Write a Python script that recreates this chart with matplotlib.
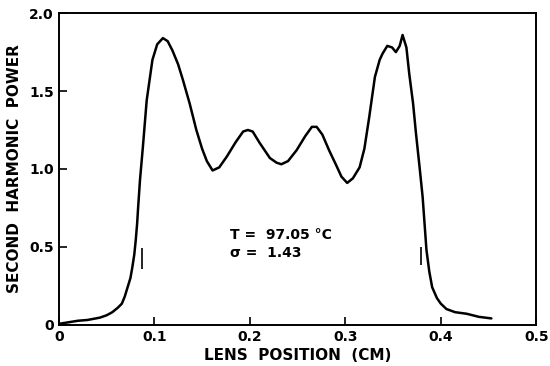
import matplotlib
matplotlib.use("Agg")
import matplotlib.pyplot as plt

# Curve data (lens position in cm, second harmonic power)
lens_pos = [0.0, 0.01, 0.02, 0.03, 0.043, 0.05, 0.056, 0.062, 0.066, 0.069, 0.072, 0.075,
            0.077, 0.079, 0.0805, 0.082, 0.083, 0.085, 0.088, 0.092, 0.095, 0.098, 0.103,
            0.109, 0.114, 0.119, 0.125, 0.130, 0.137, 0.144, 0.150, 0.155, 0.161, 0.168,
            0.176, 0.185, 0.193, 0.198, 0.203, 0.210, 0.221, 0.228, 0.233, 0.240, 0.249,
            0.258, 0.265, 0.270, 0.276, 0.283, 0.290, 0.296, 0.302, 0.308, 0.315, 0.320,
            0.325, 0.331, 0.336, 0.339, 0.344, 0.349, 0.353, 0.357, 0.360, 0.364, 0.367,
            0.371, 0.374, 0.378, 0.381, 0.383, 0.385, 0.388, 0.391, 0.396, 0.400, 0.406,
            0.415, 0.427, 0.440, 0.453]
power = [0.005, 0.015, 0.025, 0.03, 0.045, 0.06, 0.08, 0.11, 0.135, 0.18, 0.24, 0.30,
         0.37, 0.45, 0.54, 0.65, 0.75, 0.93, 1.14, 1.44, 1.57, 1.70, 1.80,
         1.84, 1.82, 1.76, 1.67, 1.57, 1.42, 1.25, 1.13, 1.05, 0.99, 1.01,
         1.08, 1.17, 1.24, 1.25, 1.24, 1.17, 1.07, 1.04, 1.03, 1.05, 1.12,
         1.21, 1.27, 1.27, 1.22, 1.12, 1.03, 0.95, 0.91, 0.94, 1.01, 1.13,
         1.33, 1.59, 1.70, 1.74, 1.79, 1.78, 1.75, 1.79, 1.86, 1.78, 1.61,
         1.42, 1.23, 1.0, 0.82, 0.65, 0.48, 0.34, 0.24, 0.17, 0.135, 0.10,
         0.08, 0.07, 0.05, 0.04]

# Short vertical marker lines
marker_x = [0.087, 0.379]
marker_y_low = [0.36, 0.38]
marker_y_high = [0.49, 0.50]

x_ticks = [0, 0.1, 0.2, 0.3, 0.4, 0.5]
x_ticklabels = ["0", "0.1", "0.2", "0.3", "0.4", "0.5"]
y_ticks = [0, 0.5, 1.0, 1.5, 2.0]
y_ticklabels = ["0", "0.5", "1.0", "1.5", "2.0"]

fig = plt.figure(figsize=(5.5, 3.66), dpi=100)
ax = fig.add_axes([0.107, 0.113, 0.868, 0.851])

ax.plot(lens_pos, power, color="black", linewidth=1.8, solid_capstyle="round",
        solid_joinstyle="round")
ax.vlines(marker_x, marker_y_low, marker_y_high, color="black", linewidth=1.2)

ax.set_xlim(0, 0.5)
ax.set_ylim(0, 2.0)
ax.set_xticks(x_ticks)
ax.set_xticklabels(x_ticklabels)
ax.set_yticks(y_ticks)
ax.set_yticklabels(y_ticklabels)
ax.tick_params(direction="in", length=6, width=1.2, labelsize=10, pad=3.5)
for lab in ax.get_xticklabels() + ax.get_yticklabels():
    lab.set_fontweight("semibold")
for sp in ax.spines.values():
    sp.set_linewidth(1.4)

ax.set_xlabel("LENS  POSITION  (CM)", fontsize=11, fontweight="semibold", labelpad=3)
ax.set_ylabel("SECOND  HARMONIC  POWER", fontsize=11, fontweight="semibold", labelpad=5)

ax.text(0.179, 0.575, "T =  97.05 °C", fontsize=10, fontweight="semibold", va="center", ha="left")
ax.text(0.179, 0.46, "σ =  1.43", fontsize=10, fontweight="semibold", va="center", ha="left")

fig.savefig("out.png", dpi=100)
